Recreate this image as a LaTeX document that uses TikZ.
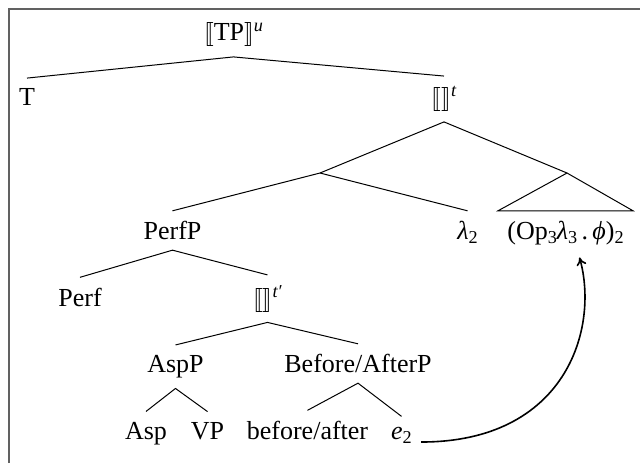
\documentclass[tikz,border=0pt]{standalone}
\usepackage{fontspec}
\setmainfont{Liberation Serif}
\usepackage{stmaryrd}
\usetikzlibrary{arrows.meta}
\newcommand{\semb}[1]{$\llbracket$#1$\rrbracket$}
\newcommand{\supi}[1]{\raisebox{4.4pt}{\fontsize{9.1}{10}\selectfont\itshape #1}}
\newcommand{\subi}[1]{\raisebox{-2.2pt}{\fontsize{9.1}{10}\selectfont #1}}
\begin{document}
\begin{tikzpicture}[x=0.5pt,y=-0.5pt,
  lbl/.style={font=\fontsize{13}{15.6}\selectfont, inner xsep=4.5pt, inner ysep=5pt, anchor=base},
  edge/.style={line width=0.5pt},
  frame/.style={draw=black!62, line width=0.9pt},
  link/.style={line width=0.8pt, -{To[length=4pt,width=5pt]}}]
\useasboundingbox (0,0) rectangle (640,463);
\draw[frame] (9,463) -- (9,9) -- (640,9);
% nodes
\node[lbl] (tp) at (233.5,40.5) {\semb{TP}\supi{u}};
\node[lbl] (T) at (27,105.5) {T};
\node[lbl] (tb) at (444,105.5) {\semb{}\supi{t}};
\coordinate (c1) at (320,173);
\coordinate (c2) at (567,173);
\node[lbl] (perfp) at (172.5,239.5) {PerfP};
\node[lbl] (lam) at (467.5,239.5) {\textit{λ}\subi{2}};
\node[lbl] (op) at (565.5,239.5) {(Op\subi{3}\textit{λ}\subi{3}\,.\,\textit{ϕ})\subi{2}};
\node[lbl] (perf) at (80,306) {Perf};
\node[lbl] (tbp) at (267.5,306) {\semb{}\supi{t′}};
\node[lbl] (aspp) at (175.5,372.5) {AspP};
\node[lbl] (bap) at (358,372.5) {Before/AfterP};
\node[lbl] (asp) at (146,439) {Asp};
\node[lbl] (vp) at (207.5,439) {VP};
\node[lbl] (ba) at (307.5,439) {before/after};
\node[lbl] (e2) at (401.5,439) {\textit{e}\subi{2}};
% edges
\draw[edge] (T.north) -- (tp.south) -- (tb.north);
\draw[edge] (c1) -- (tb.south) -- (c2);
\draw[edge] (perfp.north) -- (c1) -- (lam.north);
\draw[edge] (op.north west) -- (c2) -- (op.north east) -- cycle;
\draw[edge] (perf.north) -- (perfp.south) -- (tbp.north);
\draw[edge] (aspp.north) -- (tbp.south) -- (bap.north);
\draw[edge] (asp.north) -- (aspp.south) -- (vp.north);
\draw[edge] (ba.north) -- (bap.south) -- (e2.north);
% movement arrow
\draw[link] ([yshift=-1.5pt]e2.base east) .. controls +(144,0) and +(20,72) .. ([xshift=7pt,yshift=-1pt]op.south);
\end{tikzpicture}
\end{document}
